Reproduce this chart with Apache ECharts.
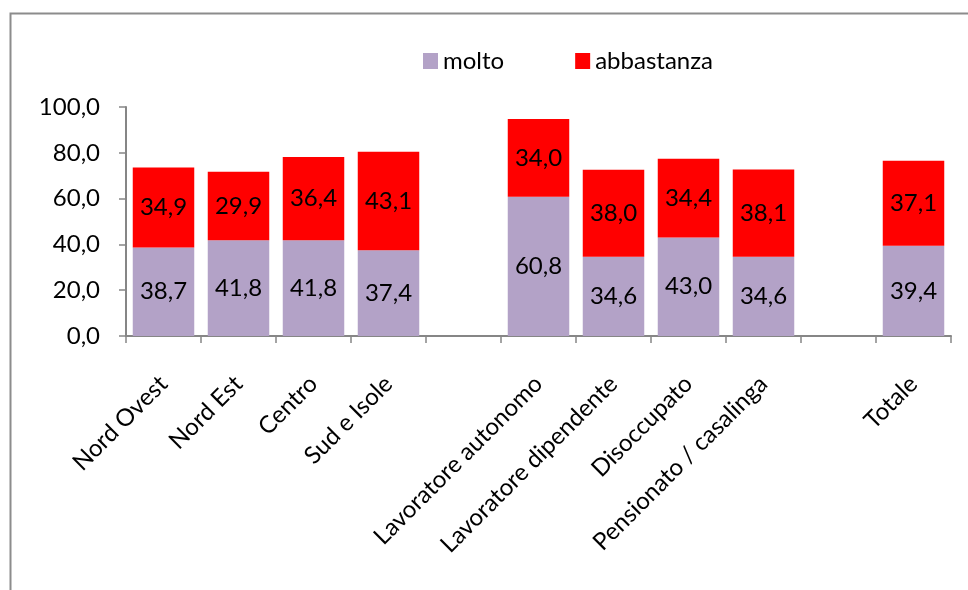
<!DOCTYPE html>
<html>
<head>
<meta charset="utf-8">
<script src="https://cdn.jsdelivr.net/npm/echarts@6/dist/echarts.min.js"></script>
<style>
  html, body { margin: 0; padding: 0; background: #fff; }
  #chart { width: 968px; height: 590px; }
</style>
</head>
<body>
<div id="chart"></div>
<script>
// Categories (empty strings are the gaps between groups)
var categories = ['Nord Ovest', 'Nord Est', 'Centro', 'Sud e Isole', '',
  'Lavoratore autonomo', 'Lavoratore dipendente', 'Disoccupato', 'Pensionato / casalinga', '',
  'Totale'];
var molto = [38.7, 41.8, 41.8, 37.4, null, 60.8, 34.6, 43.0, 34.6, null, 39.4];
var abbastanza = [34.9, 29.9, 36.4, 43.1, null, 34.0, 38.0, 34.4, 38.1, null, 37.1];
var yTicks = [0, 20, 40, 60, 80, 100];

var FONT = 'Lato';

// Comma decimal, one digit.
function fmt(v) {
  return Number(v).toFixed(1).replace('.', ',');
}

var chart = echarts.init(document.getElementById('chart'), null, {renderer: 'canvas'});

var labelStyle = {
  show: true,
  position: 'inside',
  color: '#000',
  fontFamily: FONT,
  fontSize: 24,
  formatter: function (p) { return fmt(p.value); }
};

var option = {
  animation: false,
  backgroundColor: '#fff',
  graphic: [{
    type: 'rect',
    shape: {x: 10.5, y: 13.5, width: 1000, height: 600},
    style: {fill: 'none', stroke: '#8c8c8c', lineWidth: 2},
    silent: true
  }],
  legend: {
    left: 418,
    top: 44,
    itemWidth: 15,
    itemHeight: 16,
    itemGap: 71,
    icon: 'rect',
    textStyle: {fontFamily: FONT, fontSize: 24, color: '#000'},
    data: ['molto', 'abbastanza']
  },
  grid: {
    left: 126,
    right: 17,
    top: 107,
    bottom: 254,
    containLabel: false
  },
  xAxis: {
    type: 'category',
    data: categories,
    axisLine: {lineStyle: {color: '#868686', width: 2}},
    axisTick: {show: true, length: 7, lineStyle: {color: '#868686', width: 1.5}},
    axisLabel: {
      interval: 0,
      rotate: 45,
      margin: 44,
      color: '#000',
      fontFamily: FONT,
      fontSize: 24
    }
  },
  yAxis: {
    type: 'value',
    min: yTicks[0],
    max: yTicks[yTicks.length - 1],
    interval: yTicks[1] - yTicks[0],
    splitLine: {show: false},
    axisLine: {show: true, lineStyle: {color: '#868686', width: 2}},
    axisTick: {show: true, length: 7, lineStyle: {color: '#868686', width: 1.5}},
    axisLabel: {
      margin: 26,
      color: '#000',
      fontFamily: FONT,
      fontSize: 24,
      formatter: fmt
    }
  },
  series: [
    {
      name: 'molto',
      type: 'bar',
      stack: 'tot',
      data: molto,
      barCategoryGap: '18%',
      itemStyle: {color: '#b3a2c7'},
      label: labelStyle
    },
    {
      name: 'abbastanza',
      type: 'bar',
      stack: 'tot',
      data: abbastanza,
      barCategoryGap: '18%',
      itemStyle: {color: '#ff0000'},
      label: labelStyle
    }
  ]
};

chart.setOption(option);
</script>
</body>
</html>
